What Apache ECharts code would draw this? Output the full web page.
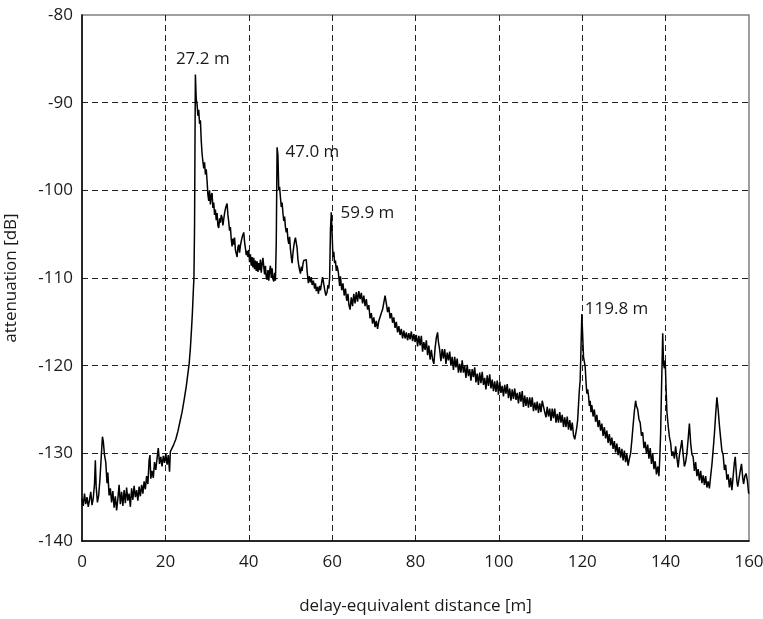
<!DOCTYPE html>
<html>
<head>
<meta charset="utf-8">
<script src="https://cdn.jsdelivr.net/npm/echarts@6/dist/echarts.min.js"></script>
<style>
html,body{margin:0;padding:0;background:#fff;}
#chart{width:763px;height:619px;}
</style>
</head>
<body>
<div id="chart"></div>
<script>
// ---- data (distance [m], attenuation [dB]) ----
const noiseStart = [
[0.0,-135.2],[0.3,-136.0],[0.6,-134.6],[0.9,-135.8],[1.2,-135.0],[1.5,-136.1],[1.8,-135.3],[2.1,-134.4],
[2.4,-135.9],[2.7,-135.1],[3.0,-133.5],[3.2,-130.8],[3.4,-133.8],[3.7,-135.6],[4.0,-134.8],[4.3,-133.0],
[4.6,-130.5],[4.9,-128.1],[5.1,-128.6],[5.4,-130.2],[5.7,-131.0],[6.0,-133.4],[6.2,-132.2],[6.5,-134.8]
];
const noiseFloor = [
[6.8,-134.0],[7.1,-135.6],[7.4,-134.3],[7.7,-136.2],[8.0,-134.9],[8.3,-136.5],[8.6,-135.2],[8.9,-133.6],
[9.2,-135.8],[9.5,-134.4],[9.8,-136.0],[10.1,-134.2],[10.4,-135.7],[10.7,-133.9],[11.0,-135.4],[11.3,-134.6],
[11.6,-136.1],[11.9,-134.0],[12.2,-135.3],[12.5,-133.7],[12.8,-135.0],[13.1,-134.2],[13.4,-135.4],[13.7,-133.8],
[14.0,-134.9],[14.3,-133.6],[14.6,-134.6],[14.9,-133.2],[15.2,-134.1],[15.5,-132.6],[15.8,-133.5],[16.1,-130.8],
[16.3,-130.2],[16.5,-132.9],[16.8,-132.0],[17.1,-132.8],[17.4,-131.0],[17.7,-131.9],[18.0,-130.6],[18.3,-129.4],
[18.6,-131.2],[18.9,-130.4],[19.2,-131.5],[19.5,-130.3],[19.8,-131.1],[20.1,-130.0],[20.4,-131.3],[20.7,-130.2],
[21.0,-132.1],[21.2,-129.8],[21.5,-129.6]
];
const risingEdge = [
[22.0,-129.0],[22.5,-128.4],[23.0,-127.5],[23.5,-126.4],[24.0,-125.3],[24.5,-123.9],[25.0,-122.4],[25.4,-120.9],
[25.7,-119.8],[26.0,-118.0],[26.3,-115.6],[26.5,-113.8],[26.7,-111.5],[26.85,-110.0],[27.0,-104.0],[27.1,-95.0],
[27.2,-86.8]
];
const decay27 = [
[27.4,-89.6],[27.6,-90.2],[27.8,-91.5],[28.0,-90.8],[28.2,-92.4],[28.4,-92.0],[28.6,-94.3],[28.8,-95.8],
[29.0,-96.7],[29.2,-97.5],[29.4,-96.8],[29.6,-98.2],[29.8,-97.6],[30.0,-98.9],[30.2,-100.5],[30.4,-101.2],
[30.6,-100.0],[30.8,-101.6],[31.0,-100.6],[31.2,-100.3],[31.4,-102.0],[31.6,-101.4],[31.8,-102.8],[32.0,-102.2],
[32.2,-103.4],[32.4,-102.6],[32.6,-104.0],[32.8,-104.3],[33.0,-103.2],[33.2,-103.7],[33.4,-102.8],[33.6,-103.1],
[33.8,-104.0],[34.0,-103.3],[34.2,-102.6],[34.5,-101.9],[34.8,-101.5],[35.0,-102.8],[35.2,-103.6],[35.4,-104.6],
[35.6,-104.2],[35.8,-105.6],[36.0,-106.4],[36.2,-105.5],[36.4,-106.2],[36.6,-105.4],[36.8,-106.8],[37.0,-107.2],
[37.2,-107.6],[37.4,-106.5],[37.6,-106.2],[37.8,-107.1],[38.0,-106.3],[38.2,-105.8],[38.5,-105.2],[38.8,-104.8],
[39.0,-105.9],[39.2,-106.6],[39.4,-107.4],[39.6,-106.9],[39.8,-107.6],[40.0,-106.8],[40.2,-108.2],[40.4,-107.3],
[40.6,-108.6],[40.8,-107.6],[41.0,-108.8],[41.2,-107.7],[41.4,-109.0],[41.6,-108.0],[41.8,-109.2],[42.0,-108.1],
[42.2,-109.3],[42.4,-108.3],[42.6,-109.1],[42.8,-107.9],[43.0,-109.4],[43.2,-108.4],[43.4,-107.7],[43.6,-108.7],
[43.8,-109.6],[44.0,-108.6],[44.2,-109.9],[44.4,-110.2],[44.6,-109.1],[44.8,-110.3],[45.0,-109.2],[45.2,-108.6],
[45.4,-110.0],[45.6,-108.9],[45.8,-110.1],[46.0,-110.4],[46.2,-109.4],[46.4,-110.3],[46.6,-106.0],[46.8,-95.1]
];
const decay47 = [
[47.0,-96.0],[47.2,-100.0],[47.4,-99.6],[47.6,-100.8],[47.8,-101.9],[48.0,-101.4],[48.2,-102.6],[48.4,-103.5],
[48.6,-103.0],[48.8,-104.2],[49.0,-104.8],[49.2,-104.3],[49.4,-105.6],[49.6,-106.1],[49.8,-105.3],[50.0,-106.7],
[50.2,-107.6],[50.4,-108.3],[50.6,-107.2],[50.8,-106.4],[51.0,-105.8],[51.2,-105.4],[51.4,-105.3],[51.6,-106.6],
[51.8,-107.9],[52.0,-108.6],[52.2,-109.1],[52.4,-109.5],[52.6,-108.7],[52.8,-109.2],[53.0,-108.4],[53.2,-108.0],
[53.5,-107.8],[53.8,-107.9],[54.0,-109.2],[54.3,-110.6],[54.5,-109.8],[54.8,-110.5],[55.0,-109.9],[55.2,-110.8],
[55.5,-110.3],[55.8,-111.2],[56.0,-110.6],[56.2,-111.5],[56.5,-111.0],[56.7,-111.8],[57.0,-110.9],[57.2,-111.4],
[57.5,-110.5],[57.7,-109.9],[57.9,-110.4],[58.2,-111.3],[58.5,-112.0],[58.8,-111.6],[59.0,-110.8],[59.2,-111.2],
[59.4,-110.0],[59.6,-104.5],[59.8,-102.5]
];
const decay60 = [
[60.0,-105.0],[60.2,-107.6],[60.4,-107.0],[60.6,-108.3],[60.8,-108.0],[61.0,-109.2],[61.2,-108.6],[61.5,-109.4],
[61.8,-110.9],[62.0,-109.8],[62.3,-111.4],[62.6,-110.6],[62.9,-112.0],[63.2,-111.2],[63.5,-112.6],[63.8,-111.8],
[64.0,-113.0],[64.3,-113.6],[64.6,-112.2],[64.9,-113.2],[65.2,-111.8],[65.5,-112.9],[65.8,-111.6],[66.1,-112.7],
[66.4,-111.5],[66.7,-112.4],[67.0,-111.7],[67.3,-112.9],[67.6,-112.0],[67.9,-113.2],[68.2,-112.4],[68.5,-113.6],
[68.8,-113.1],[69.1,-114.6],[69.4,-114.0],[69.7,-115.2],[70.0,-114.5],[70.3,-115.6],[70.6,-114.9],[70.9,-115.8],
[71.2,-114.9],[71.5,-115.1],[71.8,-114.0],[72.1,-113.6],[72.4,-112.8],[72.7,-112.0],[73.0,-112.9],[73.3,-113.9],
[73.6,-113.3],[73.9,-114.6],[74.2,-114.0],[74.5,-115.1],[74.8,-114.5],[75.1,-115.7],[75.4,-115.0],[75.7,-116.2],
[76.0,-115.5],[76.3,-116.5],[76.6,-115.8],[76.9,-116.9],[77.2,-116.0],[77.5,-116.9],[77.8,-116.2],[78.1,-117.1],
[78.4,-116.3],[78.7,-117.0],[79.0,-116.1],[79.3,-117.2],[79.6,-116.4],[79.9,-117.3]
];
const slope80 = [
[80.2,-116.5],[80.5,-117.8],[80.8,-116.6],[81.1,-117.7],[81.4,-116.6],[81.7,-118.4],[82.0,-117.3],[82.3,-118.2],
[82.6,-117.1],[82.9,-118.8],[83.2,-117.7],[83.5,-119.3],[83.8,-118.2],[84.1,-119.3],[84.4,-119.8],[84.7,-118.0],
[85.0,-116.8],[85.3,-116.2],[85.5,-117.3],[85.8,-118.2],[86.1,-119.5],[86.4,-118.1],[86.7,-119.2],[87.0,-118.1],
[87.3,-119.8],[87.6,-118.5],[87.9,-119.4],[88.2,-118.4],[88.5,-120.0],[88.8,-119.0],[89.1,-120.5],[89.4,-119.0],
[89.7,-120.2],[90.0,-119.2],[90.3,-120.8],[90.6,-119.8],[90.9,-120.8],[91.2,-119.4],[91.5,-120.8],[91.8,-120.0],
[92.1,-121.4],[92.4,-119.9],[92.7,-121.2],[93.0,-120.4],[93.3,-121.7],[93.6,-120.4],[93.9,-121.3],[94.2,-120.2],
[94.5,-121.9],[94.8,-120.9],[95.1,-122.2],[95.4,-120.8],[95.7,-122.0],[96.0,-120.7],[96.3,-122.2],[96.6,-121.4],
[96.9,-122.7],[97.2,-121.1],[97.5,-122.3],[97.8,-121.0],[98.1,-122.6],[98.4,-121.6],[98.7,-122.9],[99.0,-121.8],
[99.3,-123.0],[99.6,-121.7],[99.9,-123.3],[100.2,-121.8],[100.5,-123.1],[100.8,-122.3],[101.1,-123.5],[101.4,-122.2],
[101.7,-123.2],[102.0,-122.1],[102.3,-123.7],[102.6,-122.6],[102.9,-124.0],[103.2,-122.7],[103.5,-123.8],[103.8,-122.6],
[104.1,-123.9],[104.4,-123.1],[104.7,-124.3],[105.0,-123.0],[105.3,-124.1],[105.6,-122.9],[105.9,-124.7],[106.2,-123.4],
[106.5,-124.6],[106.8,-123.6],[107.1,-124.8],[107.4,-123.6],[107.7,-124.7],[108.0,-123.6],[108.3,-125.2],[108.6,-124.2],
[108.9,-125.1],[109.2,-124.1],[109.5,-125.4],[109.8,-124.3],[110.1,-125.3],[110.4,-124.0],[110.7,-123.8],[111.0,-125.3],
[111.3,-125.9],[111.6,-124.7],[111.9,-125.8],[112.2,-124.9],[112.5,-126.3],[112.8,-124.9],[113.1,-126.0],[113.4,-124.9],
[113.7,-126.5],[114.0,-125.5],[114.3,-126.5],[114.6,-125.3],[114.9,-126.5],[115.2,-125.6],[115.5,-127.0],[115.8,-125.9],
[116.1,-127.0],[116.4,-125.8],[116.7,-127.3],[117.0,-126.2],[117.3,-127.4],[117.6,-126.5],[117.9,-127.9],[118.2,-128.4],
[118.5,-127.6],[118.7,-127.0],[118.9,-126.2],[119.1,-124.5],[119.3,-122.8],[119.5,-121.7],[119.7,-118.0],[119.9,-114.1]
];
const tail120 = [
[120.1,-116.5],[120.3,-119.0],[120.5,-118.8],[120.7,-120.1],[120.9,-121.8],[121.1,-123.2],[121.3,-122.7],[121.5,-123.4],
[121.7,-124.6],[121.9,-124.0],[122.1,-125.3],[122.3,-124.5],[122.6,-125.8],[122.9,-125.0],[123.2,-126.4],[123.5,-125.6],
[123.8,-127.0],[124.1,-126.2],[124.4,-127.4],[124.7,-126.6],[125.0,-128.0],[125.3,-127.0],[125.6,-128.3],[125.9,-127.4],
[126.2,-128.8],[126.5,-127.8],[126.8,-129.1],[127.1,-128.2],[127.4,-129.5],[127.7,-128.6],[128.0,-129.9],[128.3,-128.9],
[128.6,-130.2],[128.9,-129.3],[129.2,-130.5],[129.5,-129.5],[129.8,-130.8],[130.1,-129.7],[130.4,-131.0],[130.7,-130.1],
[131.0,-131.4],[131.3,-130.6],[131.6,-130.0],[131.9,-128.5],[132.2,-126.8],[132.5,-125.2],[132.8,-124.0],[133.0,-124.6],
[133.3,-125.0],[133.6,-126.1],[133.9,-126.5],[134.2,-128.0],[134.5,-127.6],[134.8,-129.4],[135.1,-128.7],[135.4,-130.0],
[135.7,-129.0],[136.0,-130.6],[136.3,-129.4],[136.6,-131.2],[136.9,-130.0],[137.2,-131.8],[137.5,-130.9],[137.8,-132.4],
[138.1,-131.5],[138.4,-132.6],[138.6,-130.5],[138.8,-127.8],[139.0,-123.0],[139.2,-118.5],[139.3,-116.3],[139.5,-119.8],
[139.7,-120.3],[139.9,-119.4],[140.1,-122.5],[140.3,-125.2],[140.6,-126.8],[140.9,-128.1],[141.2,-128.8],[141.5,-130.3],
[141.8,-129.8],[142.1,-130.6],[142.4,-129.2],[142.7,-130.5],[143.0,-131.6],[143.3,-130.2],[143.6,-129.4],[143.9,-128.5],
[144.2,-130.1],[144.5,-131.5],[144.8,-131.0],[145.1,-130.0],[145.4,-128.4],[145.7,-126.6],[146.0,-128.8],[146.3,-130.1],
[146.6,-130.4],[146.9,-132.0],[147.2,-131.0],[147.5,-132.6],[147.8,-131.8],[148.1,-133.1],[148.4,-132.0],[148.7,-133.4],
[149.0,-132.5],[149.3,-133.6],[149.6,-132.6],[149.9,-133.9],[150.2,-133.2],[150.5,-134.0],[150.8,-132.6],[151.1,-131.3],
[151.4,-129.6],[151.7,-127.8],[152.0,-125.6],[152.3,-123.6],[152.6,-125.0],[152.9,-126.8],[153.2,-128.3],[153.5,-129.7],
[153.8,-130.2],[154.1,-131.9],[154.4,-131.3],[154.7,-133.0],[155.0,-132.4],[155.3,-133.9],[155.6,-132.8],[155.9,-134.2],
[156.2,-132.6],[156.5,-131.0],[156.7,-130.4],[156.9,-131.8],[157.1,-133.2],[157.3,-133.8],[157.6,-132.9],[157.9,-132.0],
[158.2,-131.2],[158.5,-132.8],[158.7,-133.5],[159.0,-132.6],[159.3,-132.3],[159.6,-133.1],[159.9,-134.5],[160.0,-134.6]
];
// peak annotations: [label x position, label y position, text]
const peakLabels = [
  [22.4, -85.0, '27.2 m'],
  [48.7, -95.7, '47.0 m'],
  [61.9, -102.6, '59.9 m'],
  [120.5, -113.6, '119.8 m']
];
const xTicks = {min: 0, max: 160, interval: 20};
const yTicks = {min: -140, max: -80, interval: 10};
const xTitle = 'delay-equivalent distance [m]';
const yTitle = 'attenuation [dB]';

const trace = [].concat(noiseStart, noiseFloor, risingEdge, decay27, decay47, decay60, slope80, tail120);

const FONT = '"Open Sans", "DejaVu Sans", sans-serif';
const TXT = '#1a1a1a';
const chart = echarts.init(document.getElementById('chart'), null, {renderer: 'canvas'});
chart.setOption({
  animation: false,
  backgroundColor: '#fff',
  grid: {left: 82, right: 14, top: 15, bottom: 78, show: true, borderColor: '#808080', borderWidth: 1.5,
    backgroundColor: 'transparent', containLabel: false, outerBoundsMode: 'none'},
  xAxis: {
    type: 'value', min: xTicks.min, max: xTicks.max, interval: xTicks.interval,
    name: xTitle, nameLocation: 'middle', nameGap: 57,
    nameTextStyle: {fontFamily: FONT, fontSize: 17, color: TXT},
    axisLine: {show: true, onZero: false, lineStyle: {color: '#000', width: 1.5}},
    axisTick: {show: false},
    axisLabel: {fontFamily: FONT, fontSize: 17, color: TXT, margin: 13},
    splitLine: {show: true, showMinLine: false, showMaxLine: false, lineStyle: {color: '#222', width: 1, type: [6, 4]}}
  },
  yAxis: {
    type: 'value', min: yTicks.min, max: yTicks.max, interval: yTicks.interval,
    name: yTitle, nameLocation: 'middle', nameGap: 62, nameRotate: 90,
    nameTextStyle: {fontFamily: FONT, fontSize: 17, color: TXT},
    axisLine: {show: true, onZero: false, lineStyle: {color: '#000', width: 1.5}},
    axisTick: {show: false},
    axisLabel: {fontFamily: FONT, fontSize: 17, color: TXT, margin: 9},
    splitLine: {show: true, showMinLine: false, showMaxLine: false, lineStyle: {color: '#222', width: 1, type: [6, 4]}}
  },
  series: [
    {
      type: 'line', data: trace, showSymbol: false, symbol: 'none',
      lineStyle: {color: '#000', width: 1.5}, clip: true, z: 3
    },
    {
      type: 'scatter', data: peakLabels.map(p => ({value: [p[0], p[1]], name: p[2]})),
      symbol: 'circle', symbolSize: 1, itemStyle: {color: 'rgba(0,0,0,0)', opacity: 1}, z: 4, silent: true,
      label: {show: true, position: 'right', distance: 0, opacity: 1,
        formatter: (d) => d.name, fontFamily: FONT, fontSize: 17, color: TXT}
    }
  ]
});
</script>
</body>
</html>
